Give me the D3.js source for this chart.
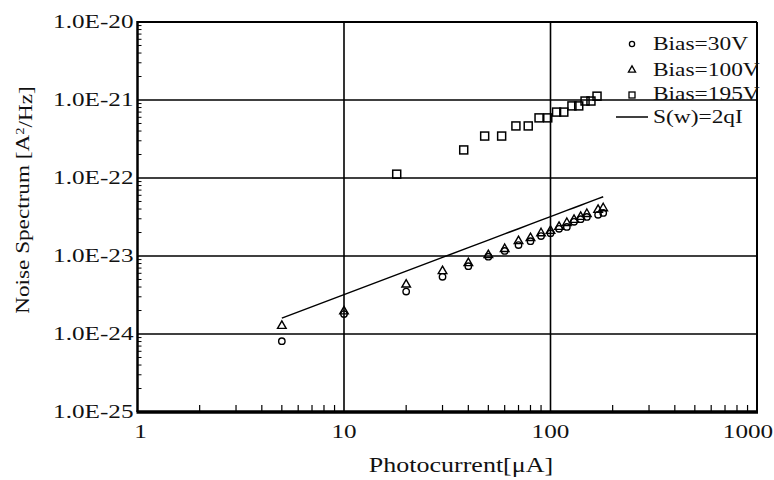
<!DOCTYPE html>
<html>
<head>
<meta charset="utf-8">
<script src="https://cdn.jsdelivr.net/npm/d3@7/dist/d3.min.js"></script>
<style>
  body { margin: 0; background: #fff; }
  text { font-family: "Liberation Serif", "DejaVu Serif", serif; fill: #111; }
</style>
</head>
<body>
<script>
// photocurrent values (uA) for the 30V / 100V sets
var current = [5, 10, 20, 30, 40, 50, 60, 70, 80, 90, 100, 110, 120, 130, 140, 150, 170, 180];
var bias30 = [8.1e-25, 1.8e-24, 3.5e-24, 5.4e-24, 7.4e-24, 9.8e-24, 1.16e-23, 1.38e-23, 1.55e-23,
  1.8e-23, 1.96e-23, 2.23e-23, 2.36e-23, 2.74e-23, 2.97e-23, 3.17e-23, 3.37e-23, 3.57e-23];
var bias100 = [1.27e-24, 1.95e-24, 4.3e-24, 6.4e-24, 8.1e-24, 1.03e-23, 1.23e-23, 1.55e-23, 1.7e-23,
  1.96e-23, 2.1e-23, 2.36e-23, 2.65e-23, 2.9e-23, 3.17e-23, 3.46e-23, 3.9e-23, 4.1e-23];
// 195V set has its own currents
var current195 = [18, 38, 48, 58, 68, 78, 88, 97, 107, 116, 127, 137, 147, 157, 168];
var bias195 = [1.12e-22, 2.29e-22, 3.45e-22, 3.45e-22, 4.65e-22, 4.65e-22, 5.9e-22, 5.9e-22,
  7.0e-22, 7.0e-22, 8.4e-22, 8.4e-22, 9.7e-22, 9.7e-22, 1.12e-21];
// shot noise line S(w)=2qI
var shotNoise = [1.6e-24, 3.2e-24, 6.4e-24, 9.6e-24, 1.28e-23, 1.6e-23, 1.92e-23, 2.24e-23, 2.56e-23,
  2.88e-23, 3.2e-23, 3.52e-23, 3.84e-23, 4.16e-23, 4.48e-23, 4.8e-23, 5.44e-23, 5.76e-23];

var xTicks = [1, 10, 100, 1000];
var yTicks = [1e-25, 1e-24, 1e-23, 1e-22, 1e-21, 1e-20];
var yTickLabels = ["1.0E-25", "1.0E-24", "1.0E-23", "1.0E-22", "1.0E-21", "1.0E-20"];
var legendLabels = ["Bias=30V", "Bias=100V", "Bias=195V", "S(w)=2qI"];

var W = 774, H = 480;
var mLeft = 137.5, mRight = 757, mTop = 22, mBottom = 412;
var sx = 1.3; // text is drawn wide in the original

var svg = d3.select("body").append("svg")
  .attr("width", W).attr("height", H)
  .style("background", "#fff");

var x = d3.scaleLog().domain([1, 1000]).range([mLeft, mRight]);
var y = d3.scaleLog().domain([1e-25, 1e-20]).range([mBottom, mTop]);

// minor ticks
var xMinor = [], yMinor = [];
[1, 10, 100].forEach(function(d){ for (var k = 2; k < 10; k++) xMinor.push(d * k); });
yTicks.slice(0, 5).forEach(function(d){ for (var k = 2; k < 10; k++) yMinor.push(d * k); });

svg.append("g").selectAll("line").data(xMinor).enter().append("line")
  .attr("x1", function(d){ return x(d); }).attr("x2", function(d){ return x(d); })
  .attr("y1", mBottom).attr("y2", mBottom - 7)
  .attr("stroke", "#000").attr("stroke-width", 1.2);
svg.append("g").selectAll("line").data(yMinor).enter().append("line")
  .attr("y1", function(d){ return y(d); }).attr("y2", function(d){ return y(d); })
  .attr("x1", mLeft).attr("x2", mLeft + 4)
  .attr("stroke", "#000").attr("stroke-width", 1);

// grid lines
svg.append("g").selectAll("line").data([10, 100]).enter().append("line")
  .attr("x1", function(d){ return x(d); }).attr("x2", function(d){ return x(d); })
  .attr("y1", mTop).attr("y2", mBottom)
  .attr("stroke", "#000").attr("stroke-width", 1.6);
svg.append("g").selectAll("line").data(yTicks.slice(1, 5)).enter().append("line")
  .attr("y1", function(d){ return y(d); }).attr("y2", function(d){ return y(d); })
  .attr("x1", mLeft).attr("x2", mRight)
  .attr("stroke", "#000").attr("stroke-width", 1.6);

// frame
svg.append("line").attr("x1", mLeft).attr("x2", mRight).attr("y1", mTop).attr("y2", mTop)
  .attr("stroke", "#000").attr("stroke-width", 2);
svg.append("line").attr("x1", mRight).attr("x2", mRight).attr("y1", mTop).attr("y2", mBottom)
  .attr("stroke", "#000").attr("stroke-width", 2);
svg.append("line").attr("x1", mLeft).attr("x2", mLeft).attr("y1", mTop - 1).attr("y2", mBottom)
  .attr("stroke", "#000").attr("stroke-width", 2.5);
svg.append("line").attr("x1", mLeft - 1).attr("x2", mRight + 1).attr("y1", mBottom).attr("y2", mBottom)
  .attr("stroke", "#000").attr("stroke-width", 3.5);

// tick labels
svg.append("g").selectAll("text").data(yTicks).enter().append("text")
  .attr("transform", function(d){ return "translate(" + (mLeft - 4) + "," + y(d) + ") scale(1.4,1)"; })
  .attr("text-anchor", "end").attr("dy", "0.33em")
  .style("font-size", "18px")
  .text(function(d, i){ return yTickLabels[i]; });

svg.append("g").selectAll("text").data(xTicks).enter().append("text")
  .attr("transform", function(d){
    var px = x(d) + (d === 1 ? 3 : 0) + (d === 1000 ? -9 : 0);
    return "translate(" + px + "," + 438 + ") scale(1.4,1)";
  })
  .attr("text-anchor", "middle")
  .style("font-size", "18px")
  .text(function(d){ return d; });

// axis titles
svg.append("text")
  .attr("transform", "translate(461,472) scale(1.3,1)")
  .attr("text-anchor", "middle").style("font-size", "20px")
  .text("Photocurrent[\u03bcA]");

var yt = svg.append("text")
  .attr("transform", "translate(29,200) rotate(-90) scale(1.22,1)")
  .attr("text-anchor", "middle").style("font-size", "19px");
yt.append("tspan").text("Noise Spectrum  [A");
yt.append("tspan").attr("dy", "-0.4em").style("font-size", "12px").text("2");
yt.append("tspan").attr("dy", "0.4em").text("/Hz]");

// marks
var tri = d3.symbol().type(d3.symbolTriangle).size(32);

svg.append("path")
  .datum(current.map(function(d, i){ return [d, shotNoise[i]]; }))
  .attr("fill", "none").attr("stroke", "#000").attr("stroke-width", 1.5)
  .attr("d", d3.line().x(function(d){ return x(d[0]); }).y(function(d){ return y(d[1]); }));

svg.append("g").selectAll("circle").data(current).enter().append("circle")
  .attr("cx", function(d){ return x(d); })
  .attr("cy", function(d, i){ return y(bias30[i]); })
  .attr("r", 3.2)
  .attr("fill", "none").attr("stroke", "#000").attr("stroke-width", 1.4);

svg.append("g").selectAll("path").data(current).enter().append("path")
  .attr("transform", function(d, i){ return "translate(" + x(d) + "," + y(bias100[i]) + ")"; })
  .attr("d", tri)
  .attr("fill", "none").attr("stroke", "#000").attr("stroke-width", 1.4);

svg.append("g").selectAll("rect").data(current195).enter().append("rect")
  .attr("x", function(d){ return x(d) - 4; })
  .attr("y", function(d, i){ return y(bias195[i]) - 4; })
  .attr("width", 8).attr("height", 8)
  .attr("fill", "none").attr("stroke", "#000").attr("stroke-width", 1.5);

// legend
var legY = [44, 70, 94, 117];
var lg = svg.append("g");
lg.append("circle").attr("cx", 632).attr("cy", legY[0]).attr("r", 2.6)
  .attr("fill", "none").attr("stroke", "#000").attr("stroke-width", 1.3);
lg.append("path").attr("transform", "translate(632," + legY[1] + ")")
  .attr("d", d3.symbol().type(d3.symbolTriangle).size(22))
  .attr("fill", "none").attr("stroke", "#000").attr("stroke-width", 1.3);
lg.append("rect").attr("x", 629).attr("y", legY[2] - 2).attr("width", 6).attr("height", 6)
  .attr("fill", "none").attr("stroke", "#000").attr("stroke-width", 1.3);
lg.append("line").attr("x1", 616).attr("x2", 648).attr("y1", legY[3]).attr("y2", legY[3])
  .attr("stroke", "#000").attr("stroke-width", 1.5);
lg.selectAll("text").data(legendLabels).enter().append("text")
  .attr("transform", function(d, i){ return "translate(653," + legY[i] + ") scale(" + sx + ",1)"; })
  .attr("dy", "0.33em")
  .style("font-size", "18px")
  .text(function(d){ return d; });
</script>
</body>
</html>
